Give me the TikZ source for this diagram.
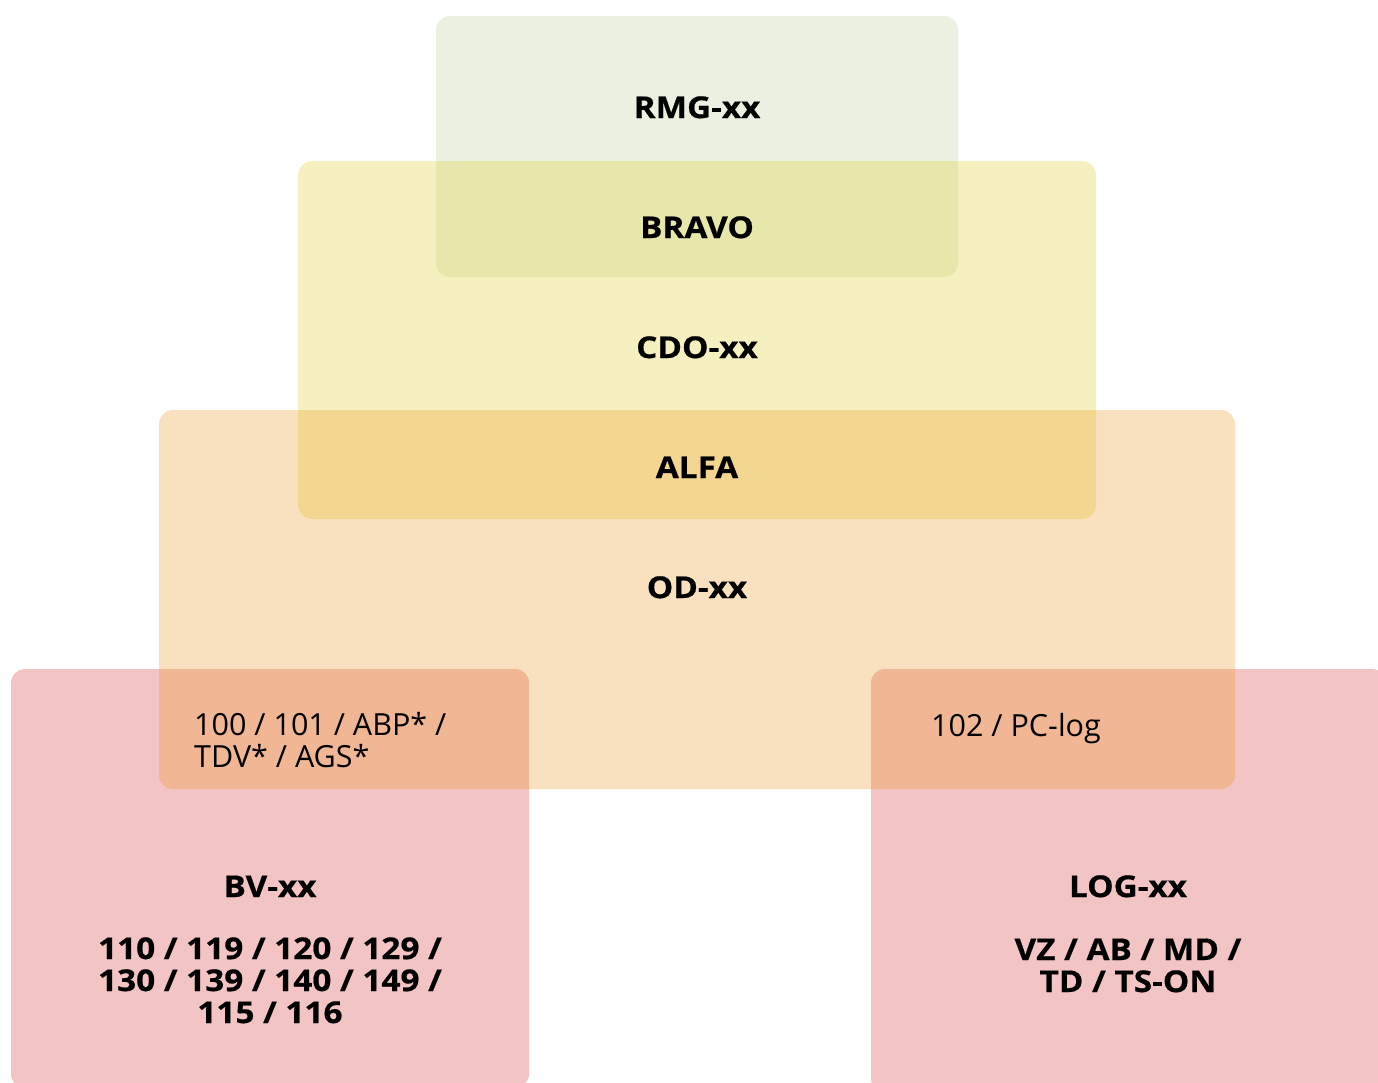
\documentclass[tikz,border=0pt]{standalone}
\usepackage{fontspec}
\setmainfont{Open Sans}[BoldFeatures={FakeStretch=1.11, FakeBold=0.6}]
\definecolor{cgreen}{HTML}{EAF1E1}
\definecolor{cyellow}{HTML}{F6EFBF}
\definecolor{corange}{HTML}{F9E1BF}
\definecolor{cpink}{HTML}{F2C4C4}
\definecolor{cgy}{HTML}{E8E7AB}
\definecolor{cyo}{HTML}{F3D690}
\definecolor{cpo}{HTML}{F1B794}
\tikzset{
  box/.style={rounded corners=14pt},
  blbl/.style={font=\bfseries\fontsize{30}{32}\selectfont, text=black, inner sep=0pt, anchor=base, align=center},
  rlbl/.style={font=\fontsize{30.5}{32}\selectfont, text=black, inner sep=0pt, anchor=base west, align=left}
}
\begin{document}
\begin{tikzpicture}[x=1pt,y=-1pt]
\useasboundingbox (0,0) rectangle (1378,1082);
\clip (0,0) rectangle (1378,1082);
% base boxes
\fill[corange, box] (159,410) rectangle (1235,789);
\fill[cyellow, box] (298,161) rectangle (1096,519);
\fill[cgreen, box] (436,16) rectangle (958,277);
\fill[cpink, box] (11,669) rectangle (529,1088);
\fill[cpink, box] (871,669) rectangle (1386,1092);
% overlaps
\begin{scope}
  \clip[box] (298,161) rectangle (1096,519);
  \fill[cgy, box] (436,16) rectangle (958,277);
\end{scope}
\begin{scope}
  \clip[box] (159,410) rectangle (1235,789);
  \fill[cyo, box] (298,161) rectangle (1096,519);
\end{scope}
\begin{scope}
  \clip[box] (159,410) rectangle (1235,789);
  \fill[cpo, box] (11,669) rectangle (529,1088);
\end{scope}
\begin{scope}
  \clip[box] (159,410) rectangle (1235,789);
  \fill[cpo, box] (871,669) rectangle (1386,1092);
\end{scope}
% labels
\node[blbl] (rmg) at (697,118) {RMG-xx};
\node[blbl] (bravo) at (697,238) {BRAVO};
\node[blbl] (cdo) at (697,358) {CDO-xx};
\node[blbl] (alfa) at (697,478) {ALFA};
\node[blbl] (od) at (697,598) {OD-xx};
\node[rlbl] (left) at (194,767) {100 / 101 / ABP* /\\TDV* / AGS*};
\node[rlbl] (right) at (931,736) {102 / PC-log};
\node[blbl] (bv) at (270,897) {BV-xx};
\node[blbl] (bvn) at (270,1023) {110 / 119 / 120 / 129 /\\130 / 139 / 140 / 149 /\\115 / 116};
\node[blbl] (log) at (1128,897) {LOG-xx};
\node[blbl] (logn) at (1128,992) {VZ / AB / MD /\\TD / TS-ON};
\end{tikzpicture}
\end{document}
